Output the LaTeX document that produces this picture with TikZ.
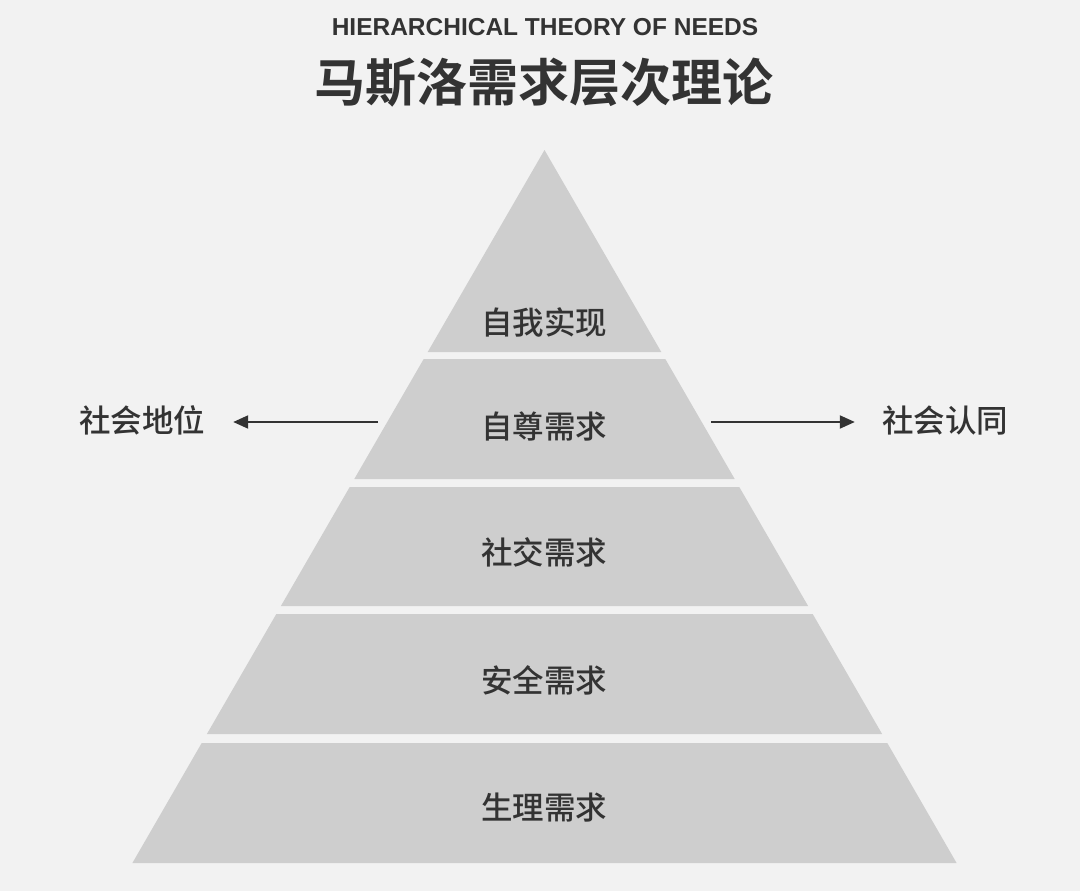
\documentclass[tikz,border=0pt]{standalone}
\usepackage{fontspec}
\setmainfont{Liberation Sans}
\newfontfamily\cjk{Noto Sans CJK SC}[UprightFont={* Medium},BoldFont={* Bold}]
\newfontfamily\cjkb{Noto Sans CJK SC Bold}
\usetikzlibrary{arrows.meta}
\definecolor{bg}{HTML}{F2F2F2}
\definecolor{layer}{HTML}{CECECE}
\definecolor{ink}{HTML}{333333}
\tikzset{
  layerfill/.style={fill=layer, draw=none},
  lbl/.style={text=ink, font=\cjk\fontsize{31.5}{34}\selectfont, inner sep=0pt},
  side/.style={text=ink, font=\cjk\fontsize{31.5}{34}\selectfont, inner ysep=0pt},
  arr/.style={draw=ink, line width=2pt, -{Triangle[length=15pt,width=13pt]}}
}
\begin{document}
\begin{tikzpicture}[x=1pt,y=-1pt]
\fill[bg] (0,0) rectangle (1080,891);
\useasboundingbox (0,0) rectangle (1080,891);
% titles
\node[text=ink, font=\bfseries\fontsize{24.5}{28}\selectfont] (en) at (545,27) {HIERARCHICAL THEORY OF NEEDS};
\node[text=ink, font=\cjkb\fontsize{51}{56}\selectfont] (zh) at (544,83) {马斯洛需求层次理论};
% pyramid layers
\fill[layerfill] (544.5,150) -- (661.3,352) -- (427.7,352) -- cycle;
\fill[layerfill] (423.7,359) -- (665.3,359) -- (734.7,479) -- (354.3,479) -- cycle;
\fill[layerfill] (349.7,487) -- (739.3,487) -- (808.1,606) -- (280.9,606) -- cycle;
\fill[layerfill] (276.3,614) -- (812.7,614) -- (882.1,734) -- (206.9,734) -- cycle;
\fill[layerfill] (201.7,743) -- (887.3,743) -- (956.6,863) -- (132.4,863) -- cycle;
% labels
\node[lbl] (l1) at (544,322) {自我实现};
\node[lbl] (l2) at (544,426) {自尊需求};
\node[lbl] (l3) at (544,552) {社交需求};
\node[lbl] (l4) at (544,680) {安全需求};
\node[lbl] (l5) at (544,808) {生理需求};
% side labels and arrows
\node[side, inner xsep=28pt] (ll) at (142,420) {社会地位};
\node[side, inner xsep=27pt] (rl) at (945,420) {社会认同};
\coordinate (la) at (378,422);
\coordinate (ra) at (711,422);
\draw[arr] (la) -- (la -| ll.east);
\draw[arr] (ra) -- (ra -| rl.west);
\end{tikzpicture}
\end{document}
